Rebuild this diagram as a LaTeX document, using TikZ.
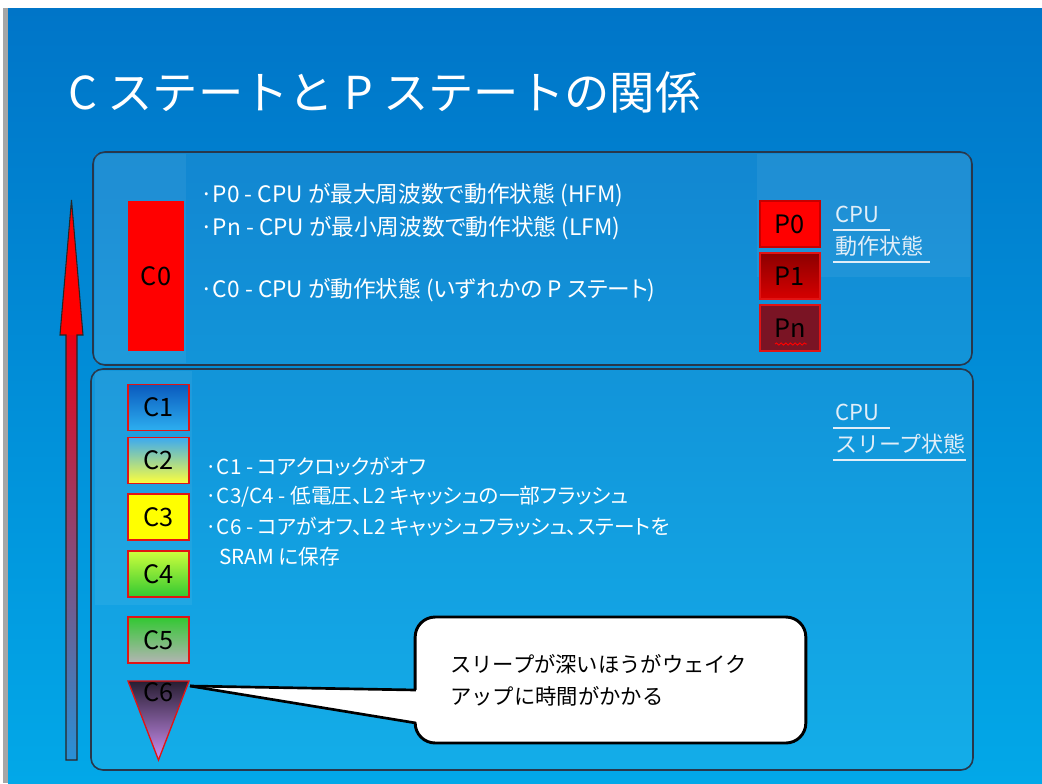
\documentclass[tikz,border=0pt]{standalone}
\usepackage{fontspec}
\setmainfont{Noto Sans CJK JP}
\newfontfamily\pfont[RawFeature=+palt]{Noto Sans CJK JP}
\usetikzlibrary{shapes.geometric,decorations.pathmorphing,calc}
\definecolor{bgtop}{RGB}{0,117,200}
\definecolor{bgbot}{RGB}{2,168,232}
\definecolor{panelline}{RGB}{40,55,75}
\definecolor{lbl}{RGB}{225,238,248}
\definecolor{boxred}{RGB}{225,20,20}
\tikzset{
  panel/.style={draw=panelline, line width=1.2pt, rounded corners=9pt, fill=white, fill opacity=0.07, text opacity=1},
  wtext/.style={text=white, font=\pfont\fontsize{17}{19}\selectfont, anchor=west, inner sep=0pt},
  wtextb/.style={text=white, font=\pfont\fontsize{15.5}{18}\selectfont, anchor=west, inner sep=0pt},
  sidelbl/.style={text=lbl, font=\fontsize{16.5}{19}\selectfont, anchor=west, inner sep=0pt},
  cbox/.style={draw=boxred, line width=1pt, minimum width=45.75pt, minimum height=34.5pt, inner sep=0pt, text=black, font=\fontsize{19}{20}\selectfont},
  pbox/.style={draw=boxred, line width=1pt, minimum width=45pt, minimum height=34.5pt, inner sep=0pt, text=black, font=\fontsize{19}{20}\selectfont},
  ulin/.style={draw=lbl, line width=0.8pt},
}
\begin{document}
\begin{tikzpicture}[x=0.75pt, y=-0.75pt]
\useasboundingbox (0,0) rectangle (1042,783);
% background
\fill[white] (0,0) rectangle (1042,783);
\fill[gray!70] (3,8) rectangle (8,783);
\shade[top color=bgtop, bottom color=bgbot] (8,8) rectangle (1042,783);

% title
\node[text=white, font=\fontsize{34}{38}\selectfont, anchor=west, inner sep=0pt] (title) at (68,92) {C ステートと P ステートの関係};

% panels
\draw[panel] (93,152) rectangle (972,365);
\draw[panel] (91,369) rectangle (973,770);
\fill[white, opacity=0.06] (95,154) rectangle (186,363);
\fill[white, opacity=0.06] (757,154) rectangle (970,277);
\fill[white, opacity=0.06] (95,371) rectangle (192,605);

% C0 and P states
\node[fill=red, minimum width=42pt, minimum height=112.5pt, inner sep=0pt, text=black, font=\fontsize{19}{20}\selectfont] (c0) at (156,276) {C0};
\node[pbox, fill=red, draw={rgb,255:red,200;green,0;blue,0}] (p0) at (790,224) {P0};
\node[pbox, top color={rgb,255:red,140;green,0;blue,0}, bottom color={rgb,255:red,215;green,0;blue,0}] (p1) at (790,276) {P1};
\node[pbox, fill={rgb,255:red,122;green,20;blue,36}] (pn) at (790,328) {Pn};
\draw[red, line width=0.7pt, decoration={snake, amplitude=0.8pt, segment length=3.5pt}, decorate] ($(pn.center)+(-15,16)$) -- ($(pn.center)+(17,16)$);

% upper bullets
\node[wtext] (b1) at (200,195) {·P0 - CPU が最大周波数で動作状態 (HFM)};
\node[wtext] (b2) at (200,228) {·Pn - CPU が最小周波数で動作状態 (LFM)};
\node[wtext] (b3) at (200,290) {·C0 - CPU が動作状態 (いずれかの P ステート)};

% upper side label
\node[sidelbl] (u1) at (835,214) {CPU};
\node[sidelbl] (u2) at (835,246) {動作状態};
\draw[ulin] (833,230) -- (890,230);
\draw[ulin] (833,262) -- (930,262);

% C states
\node[cbox, top color={rgb,255:red,10;green,90;blue,190}, bottom color={rgb,255:red,45;green,175;blue,240}] (c1) at (158.5,407.5) {C1};
\node[cbox, top color={rgb,255:red,60;green,170;blue,240}, bottom color={rgb,255:red,255;green,255;blue,60}] (c2) at (158.5,460.5) {C2};
\node[cbox, fill={rgb,255:red,255;green,255;blue,0}] (c3) at (158.5,517) {C3};
\node[cbox, top color={rgb,255:red,205;green,255;blue,60}, bottom color={rgb,255:red,50;green,200;blue,50}] (c4) at (158.5,574) {C4};
\node[cbox, top color={rgb,255:red,50;green,200;blue,50}, bottom color={rgb,255:red,180;green,180;blue,180}] (c5) at (158.5,640) {C5};
\shadedraw[draw=boxred, line width=1pt, top color={rgb,255:red,40;green,30;blue,50}, bottom color={rgb,255:red,205;green,145;blue,245}] (128,681) -- (189,681) -- (158.5,760) -- cycle;
\node[text=black, font=\fontsize{19}{20}\selectfont, inner sep=0pt] (c6) at (158.5,692) {C6};

% lower bullets
\node[wtextb] (l1) at (205,467) {·C1 - コアクロックがオフ};
\node[wtextb] (l2) at (205,497) {·C3/C4 - 低電圧、L2 キャッシュの一部フラッシュ};
\node[wtextb] (l3) at (205,527) {·C6 - コアがオフ、L2 キャッシュフラッシュ、ステートを};
\node[wtextb] (l4) at (219,557) {SRAM に保存};

% lower side label
\node[sidelbl] (s1) at (835,412) {CPU};
\node[sidelbl] (s2) at (835,444) {スリープ状態};
\draw[ulin] (833,428) -- (890,428);
\draw[ulin] (833,460) -- (966,460);

% big arrow
\shade[top color={rgb,255:red,235;green,0;blue,20}, middle color={rgb,255:red,125;green,75;blue,125}, bottom color={rgb,255:red,40;green,145;blue,215}] (66,335) rectangle (77,760);
\fill[red] (71.5,200) -- (83,335) -- (60,335) -- cycle;
\draw[black!85, line width=0.8pt] (71.5,200) -- (83,335) -- (77,335) -- (77,760) -- (66,760) -- (66,335) -- (60,335) -- cycle;

% callout
\coordinate (tip) at (190,686);
\node[draw=black, line width=2.2pt, fill=white, rounded corners=15pt, minimum width=293pt, minimum height=94.5pt] (cb) at (610.5,680) {};
\fill[white] (tip) -- (420,690) -- (420,723) -- cycle;
\draw[black, line width=2pt] (tip) -- (416,690);
\draw[black, line width=2pt] (tip) -- (416,723);
\node[anchor=west, align=left, text=black, font=\fontsize{16}{24}\selectfont, inner sep=0pt] (ct) at (450,680) {スリープが深いほうがウェイク\\アップに時間がかかる};
\end{tikzpicture}
\end{document}
